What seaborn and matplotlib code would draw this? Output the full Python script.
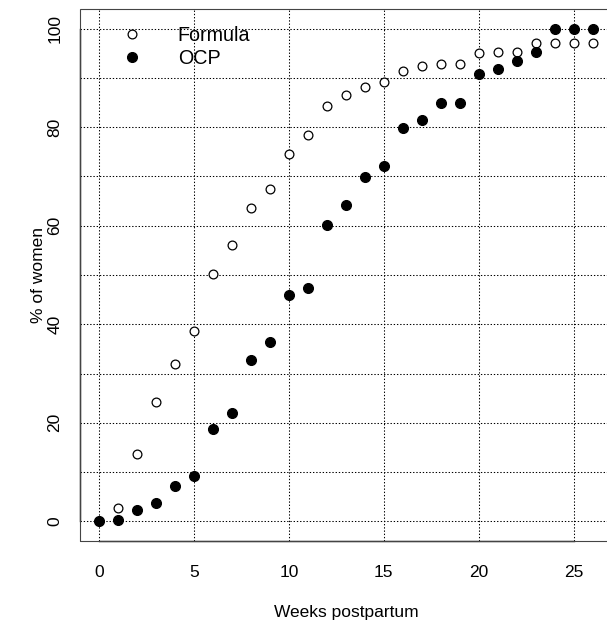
import numpy as np
import pandas as pd
import matplotlib
matplotlib.use("Agg")
import matplotlib.pyplot as plt
from matplotlib.patches import Rectangle
import seaborn as sns

weeks = list(range(0, 27))
formula = [0, 2.8, 13.7, 24.3, 31.9, 38.7, 50.2, 56.1, 63.6, 67.5, 74.6, 78.4, 84.3, 86.6,
           88.2, 89.1, 91.4, 92.5, 92.8, 92.8, 95.1, 95.2, 95.2, 97.1, 97.1, 97.1, 97.1]
ocp = [0, 0.35, 2.2, 3.7, 7.2, 9.1, 18.7, 21.9, 32.7, 36.5, 46.0, 47.4, 60.2, 64.2,
       69.9, 72.1, 79.9, 81.4, 84.9, 84.9, 90.8, 91.9, 93.4, 95.2, 100, 100, 100]
x_ticks = [0, 5, 10, 15, 20, 25]
y_ticks = [0, 20, 40, 60, 80, 100]
y_grid = list(range(0, 101, 10))

df = pd.DataFrame({"week": weeks, "Formula": formula, "OCP": ocp})

sns.set_style("white")
plt.rcParams['font.family'] = ['Liberation Sans', 'DejaVu Sans']
plt.rcParams['text.color'] = 'black'
plt.rcParams['axes.labelcolor'] = 'black'

fig = plt.figure(figsize=(6.07, 6.25), dpi=100)
# plot region runs a little past the right edge of the picture, as in the original
ax = fig.add_axes([79.5 / 607, (625 - 541) / 625, (612.3 - 79.5) / 607, (541 - 9) / 625])

sns.scatterplot(data=df, x="week", y="Formula", ax=ax, color="white", edgecolor="black",
                linewidth=0.9, s=40, label="Formula", zorder=3)
sns.scatterplot(data=df, x="week", y="OCP", ax=ax, color="black", edgecolor="black",
                linewidth=0.9, s=50, label="OCP", zorder=4)

ax.set_xlim(-1.04, 27.04)
ax.set_ylim(-4, 104)
ax.set_xticks(x_ticks)
ax.set_yticks(y_ticks)
ax.set_yticks(y_grid, minor=True)
ax.set_yticklabels([str(v) for v in y_ticks], rotation=90, va="center")

dots = (0, (1.3, 1.8))
ax.grid(True, which="major", axis="x", color="black", linestyle=dots, linewidth=0.75)
ax.grid(True, which="both", axis="y", color="black", linestyle=dots, linewidth=0.75)
ax.set_axisbelow(True)

ax.tick_params(axis="both", which="major", direction="out", length=8, width=0.8,
               color="black", labelsize=12.5, labelcolor="black")
ax.tick_params(axis="x", pad=9)
ax.tick_params(axis="y", pad=4.5)
ax.tick_params(axis="y", which="minor", length=0)

# axis lines only over the tick range, thin box round the plot region
for side in ["top", "right"]:
    ax.spines[side].set_visible(False)
ax.spines["bottom"].set_bounds(0, 25)
ax.spines["left"].set_bounds(0, 100)
for side in ["bottom", "left"]:
    ax.spines[side].set_color("black")
    ax.spines[side].set_linewidth(1.0)
ax.add_patch(Rectangle((0, 0), 1, 1, transform=ax.transAxes, fill=False,
                       edgecolor="#444444", linewidth=0.8, clip_on=False, zorder=5))

ax.set_xlabel("Weeks postpartum", fontsize=12.5, color="black")
ax.set_ylabel("% of women", fontsize=12.5, color="black")
ax.xaxis.set_label_coords(0.5, -0.1195)
ax.yaxis.set_label_coords(-0.0634, 0.5)

leg = ax.legend(loc="upper left", bbox_to_anchor=(0.0803, 0.9675), frameon=False,
                borderaxespad=0, borderpad=0, handlelength=1.0, handletextpad=1.81,
                labelspacing=0.19, scatteryoffsets=[0.5], fontsize=14.2)
for t in leg.get_texts():
    t.set_color("black")

fig.savefig("out.png", dpi=100)
